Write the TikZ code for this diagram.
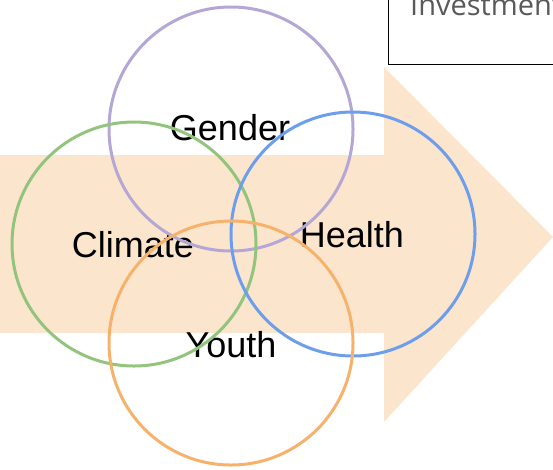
\documentclass[tikz,border=0pt]{standalone}
\usepackage{fontspec}
\setmainfont{Liberation Sans}
\newfontfamily\boxfont{Open Sans}
\definecolor{arrowfill}{HTML}{FCE5CD}
\definecolor{cpurple}{HTML}{B4A7D6}
\definecolor{cgreen}{HTML}{93C47D}
\definecolor{cblue}{HTML}{6D9EEB}
\definecolor{corange}{HTML}{F6B26B}
\definecolor{boxtext}{HTML}{595959}
\begin{document}
\begin{tikzpicture}[x=1pt,y=-1pt,
  ring/.style={draw,line width=3pt,circle,minimum size=244pt,inner sep=0pt},
  lbl/.style={anchor=base,inner sep=0pt,font=\fontsize{36}{40}\selectfont}]
\useasboundingbox (0,0) rectangle (553,469);
\clip (0,0) rectangle (553,469);
% big arrow
\fill[arrowfill] (0,155) -- (384,155) -- (384,67) -- (553,237) -- (384,422) -- (384,333) -- (0,333) -- cycle;
% top-right box
\node[draw=black,line width=1.3pt,anchor=south west,minimum width=200pt,minimum height=110pt,inner sep=0pt] (invbox) at (388,65) {};
\node[anchor=base west,inner sep=0pt,text=boxtext,font=\boxfont\fontsize{29}{34}\selectfont] (invtext) at (410,15) {Investment};
% labels
\node[lbl] (tgender) at (230,140) {Gender};
\node[lbl] (tclimate) at (133,257) {Climate};
\node[lbl] (thealth) at (352,247) {Health};
\node[lbl] (tyouth) at (231,357) {Youth};
% circles
\node[ring,draw=cpurple] (gender) at (231,129) {};
\node[ring,draw=cgreen] (climate) at (134,244) {};
\node[ring,draw=cblue] (health) at (353,234) {};
\node[ring,draw=corange] (youth) at (231,343) {};
\end{tikzpicture}
\end{document}
